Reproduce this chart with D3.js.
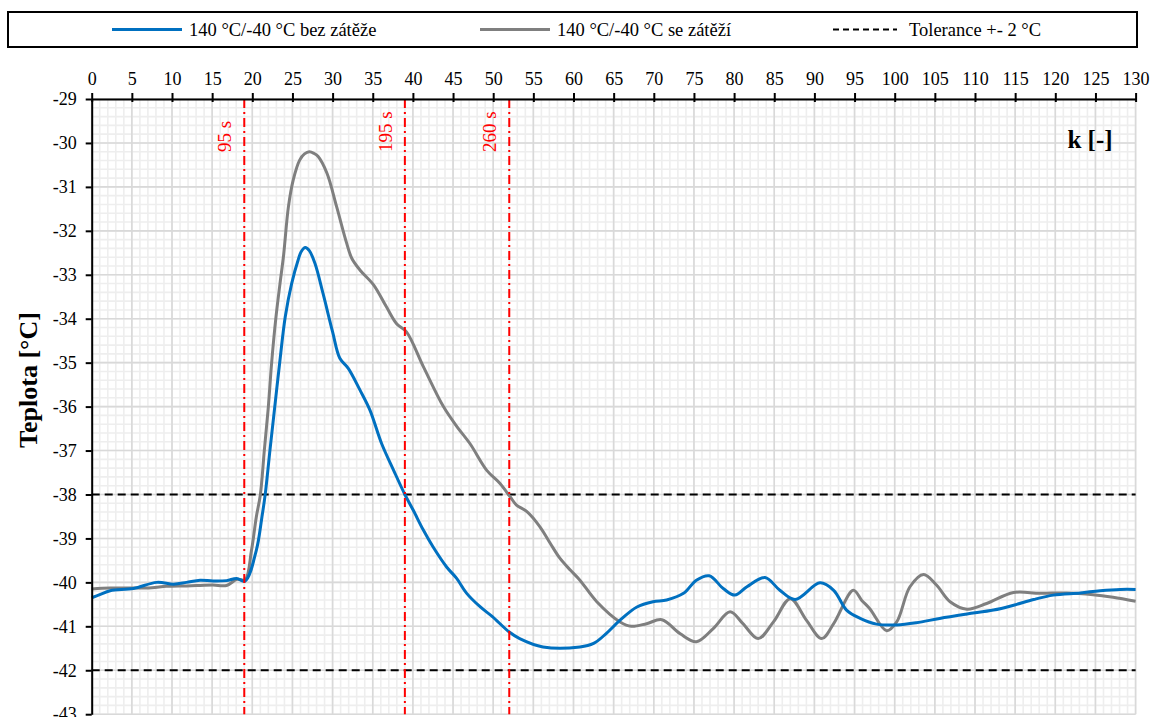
<!DOCTYPE html>
<html>
<head>
<meta charset="utf-8">
<script src="https://cdn.jsdelivr.net/npm/d3@7"></script>
<style>
  html, body { margin: 0; padding: 0; background: #fff; }
  svg { display: block; font-family: "Liberation Serif", "Times New Roman", serif; }
</style>
</head>
<body>
<svg id="chart" width="1152" height="717"></svg>
<script>
// ---- data ----
const seriesNames = ["140 °C/-40 °C bez zátěže", "140 °C/-40 °C se zátěží", "Tolerance +- 2 °C"];

const kBlue = [0, 1, 2.3, 5.2, 8.1, 10.2, 11.8, 13.5, 15.1, 16.8, 18.05, 19.1, 20.5, 21.2, 21.6, 22.2, 22.8, 23.4, 24.1, 24.9, 25.7, 26.1, 26.6, 27.1, 27.8, 28.8, 30.0, 30.9, 31.95, 33.4, 34.65, 36.1, 37.6, 39.0, 40.05, 41.3, 42.5, 44.2, 45.45, 46.7, 48.4, 49.9, 52.0, 53.3, 56.2, 60.8, 62.5, 64.1, 65.8, 67.9, 69.9, 71.6, 73.7, 75.3, 76.9, 78.65, 80.1, 81.6, 83.85, 85.7, 87.6, 90.7, 92.4, 94.0, 95.7, 97.75, 100.25, 102.7, 105.6, 109.0, 112.3, 114.8, 117.3, 119.75, 123.1, 125.6, 128.1, 130];
const tBlue = [-40.35, -40.28, -40.19, -40.14, -40.0, -40.04, -40.0, -39.95, -39.97, -39.96, -39.91, -39.97, -39.27, -38.51, -38.01, -36.99, -36.0, -35.02, -33.96, -33.2, -32.67, -32.47, -32.38, -32.45, -32.74, -33.42, -34.3, -34.9, -35.13, -35.62, -36.08, -36.84, -37.45, -38.0, -38.36, -38.81, -39.19, -39.65, -39.91, -40.25, -40.56, -40.78, -41.13, -41.28, -41.47, -41.47, -41.39, -41.16, -40.86, -40.56, -40.44, -40.4, -40.25, -39.95, -39.85, -40.14, -40.29, -40.1, -39.89, -40.18, -40.39, -40.01, -40.18, -40.63, -40.82, -40.95, -40.97, -40.92, -40.82, -40.72, -40.63, -40.52, -40.39, -40.29, -40.24, -40.19, -40.16, -40.16];

const kGray = [0, 2.3, 5.2, 7.5, 9.3, 11.8, 13.5, 15.1, 16.8, 18.1, 19.1, 19.9, 20.5, 21.0, 21.5, 22.0, 22.4, 22.95, 23.45, 23.9, 24.5, 25.1, 25.9, 26.5, 27.1, 27.7, 28.2, 29.3, 30.5, 31.75, 32.4, 33.4, 35.1, 36.7, 38.0, 39.2, 41.3, 43.8, 45.5, 47.1, 49.2, 50.85, 52.1, 52.9, 54.2, 55.8, 57.1, 58.3, 59.6, 60.8, 62.9, 65.8, 67.2, 69.1, 71.0, 73.3, 75.3, 77.4, 79.5, 81.1, 83.0, 84.9, 87.0, 89.0, 90.9, 92.4, 94.85, 95.9, 96.9, 99.0, 100.25, 101.9, 103.6, 105.2, 106.9, 109.0, 111.45, 114.8, 118.1, 121.4, 124.7, 127.2, 130];
const tGray = [-40.15, -40.13, -40.13, -40.12, -40.09, -40.08, -40.07, -40.06, -40.07, -39.93, -39.94, -39.27, -38.51, -38.01, -36.99, -36.0, -35.02, -33.96, -33.2, -32.55, -31.45, -30.84, -30.39, -30.25, -30.2, -30.24, -30.31, -30.69, -31.45, -32.28, -32.63, -32.89, -33.23, -33.73, -34.12, -34.3, -35.09, -36.0, -36.46, -36.84, -37.45, -37.75, -38.05, -38.24, -38.39, -38.73, -39.11, -39.45, -39.72, -39.95, -40.44, -40.9, -41.0, -40.94, -40.85, -41.17, -41.35, -41.05, -40.67, -40.94, -41.28, -40.9, -40.37, -40.86, -41.28, -40.94, -40.18, -40.41, -40.6, -41.1, -40.9, -40.1, -39.82, -40.06, -40.44, -40.61, -40.48, -40.23, -40.25, -40.24, -40.28, -40.34, -40.43];

const toleranceLevels = [-38, -42];
const markerK = [19, 39, 52];
const markerLabels = ["95 s", "195 s", "260 s"];

const xTicks = d3.range(0, 131, 5);
const yTicks = d3.range(-29, -43.5, -1);
const xMinor = d3.range(0, 131, 1);
const yMinor = d3.range(0, 71).map(i => -29 - i * 0.2);

// ---- layout ----
const svg = d3.select("#chart");
const x = d3.scaleLinear().domain([0, 130]).range([91.7, 1135.6]);
const y = d3.scaleLinear().domain([-29, -43]).range([99, 714.2]);

const gGrid = svg.append("g");
// minor grid
gGrid.selectAll("line.mx").data(xMinor).join("line")
  .attr("x1", d => x(d)).attr("x2", d => x(d))
  .attr("y1", y(-29)).attr("y2", y(-43))
  .attr("stroke", "#eeeeee").attr("stroke-width", 1.6);
gGrid.selectAll("line.my").data(yMinor).join("line")
  .attr("x1", x(0)).attr("x2", x(130))
  .attr("y1", d => y(d)).attr("y2", d => y(d))
  .attr("stroke", "#eeeeee").attr("stroke-width", 1.6);
// major grid
gGrid.selectAll("line.Mx").data(xTicks).join("line")
  .attr("x1", d => x(d)).attr("x2", d => x(d))
  .attr("y1", y(-29)).attr("y2", y(-43))
  .attr("stroke", "#d9d9d9").attr("stroke-width", 1.6);
gGrid.selectAll("line.My").data(yTicks).join("line")
  .attr("x1", x(0)).attr("x2", x(130))
  .attr("y1", d => y(d)).attr("y2", d => y(d))
  .attr("stroke", "#d9d9d9").attr("stroke-width", 1.6);

// tolerance lines
svg.append("g").selectAll("line").data(toleranceLevels).join("line")
  .attr("x1", x(0)).attr("x2", x(130))
  .attr("y1", d => y(d)).attr("y2", d => y(d))
  .attr("stroke", "#000").attr("stroke-width", 2)
  .attr("stroke-dasharray", "8,5");

// series lines
const line = d3.line().curve(d3.curveCatmullRom.alpha(0.5));
const blueData = kBlue.map((k, i) => [x(k), y(tBlue[i])]);
const grayData = kGray.map((k, i) => [x(k), y(tGray[i])]);
svg.append("path").attr("d", line(grayData))
  .attr("fill", "none").attr("stroke", "#7f7f7f").attr("stroke-width", 3);
svg.append("path").attr("d", line(blueData))
  .attr("fill", "none").attr("stroke", "#0070c0").attr("stroke-width", 3);

// marker lines
const gMark = svg.append("g");
gMark.selectAll("line").data(markerK).join("line")
  .attr("x1", d => x(d)).attr("x2", d => x(d))
  .attr("y1", y(-29)).attr("y2", y(-43))
  .attr("stroke", "#ff0000").attr("stroke-width", 2)
  .attr("stroke-dasharray", "9,4,2,4");
gMark.selectAll("text").data(markerK).join("text")
  .attr("transform", d => `translate(${x(d) - 13},152) rotate(-90)`)
  .attr("fill", "#ff0000").attr("font-size", 19)
  .text((d, i) => markerLabels[i]);

// axes
const xAxis = svg.append("g").attr("transform", `translate(0,${y(-29)})`)
  .call(d3.axisTop(x).tickValues(xTicks).tickSize(6).tickSizeOuter(0).tickPadding(8));
xAxis.select(".domain").attr("stroke", "#000").attr("stroke-width", 2);
xAxis.selectAll(".tick line").attr("stroke", "#000").attr("stroke-width", 2).attr("y2", -6).attr("y1", 3);
xAxis.selectAll(".tick text").attr("font-size", 18).attr("fill", "#000")
  .attr("font-family", "Liberation Serif, Times New Roman, serif");

const yAxis = svg.append("g").attr("transform", `translate(${x(0)},0)`)
  .call(d3.axisLeft(y).tickValues(yTicks).tickSize(6).tickSizeOuter(0).tickPadding(9).tickFormat(d3.format("d")));
yAxis.select(".domain").attr("stroke", "#000").attr("stroke-width", 2);
yAxis.selectAll(".tick line").attr("stroke", "#000").attr("stroke-width", 2);
yAxis.selectAll(".tick text").attr("font-size", 18).attr("fill", "#000")
  .attr("font-family", "Liberation Serif, Times New Roman, serif")
  .text(d => d3.format("d")(d).replace("−", "-"));

// axis titles
svg.append("text").attr("transform", "translate(37,380) rotate(-90)")
  .attr("text-anchor", "middle").attr("font-size", 26).attr("font-weight", "bold")
  .text("Teplota [°C]");
svg.append("text").attr("x", 1090).attr("y", 148).attr("text-anchor", "middle")
  .attr("font-size", 25).attr("font-weight", "bold").text("k [-]");

// legend
const leg = svg.append("g");
leg.append("rect").attr("x", 8).attr("y", 12).attr("width", 1129).attr("height", 35)
  .attr("fill", "#fff").attr("stroke", "#000").attr("stroke-width", 2);
const legItems = [
  { x0: 112, x1: 182, tx: 189, color: "#0070c0", dash: null },
  { x0: 480, x1: 550, tx: 557, color: "#7f7f7f", dash: null },
  { x0: 833, x1: 897, tx: 909, color: "#000", dash: "6,4" }
];
legItems.forEach((it, i) => {
  leg.append("line").attr("x1", it.x0).attr("x2", it.x1).attr("y1", 29.5).attr("y2", 29.5)
    .attr("stroke", it.color).attr("stroke-width", it.dash ? 2 : 3)
    .attr("stroke-dasharray", it.dash);
  leg.append("text").attr("x", it.tx).attr("y", 36).attr("font-size", 18.5)
    .text(seriesNames[i]);
});
</script>
</body>
</html>
